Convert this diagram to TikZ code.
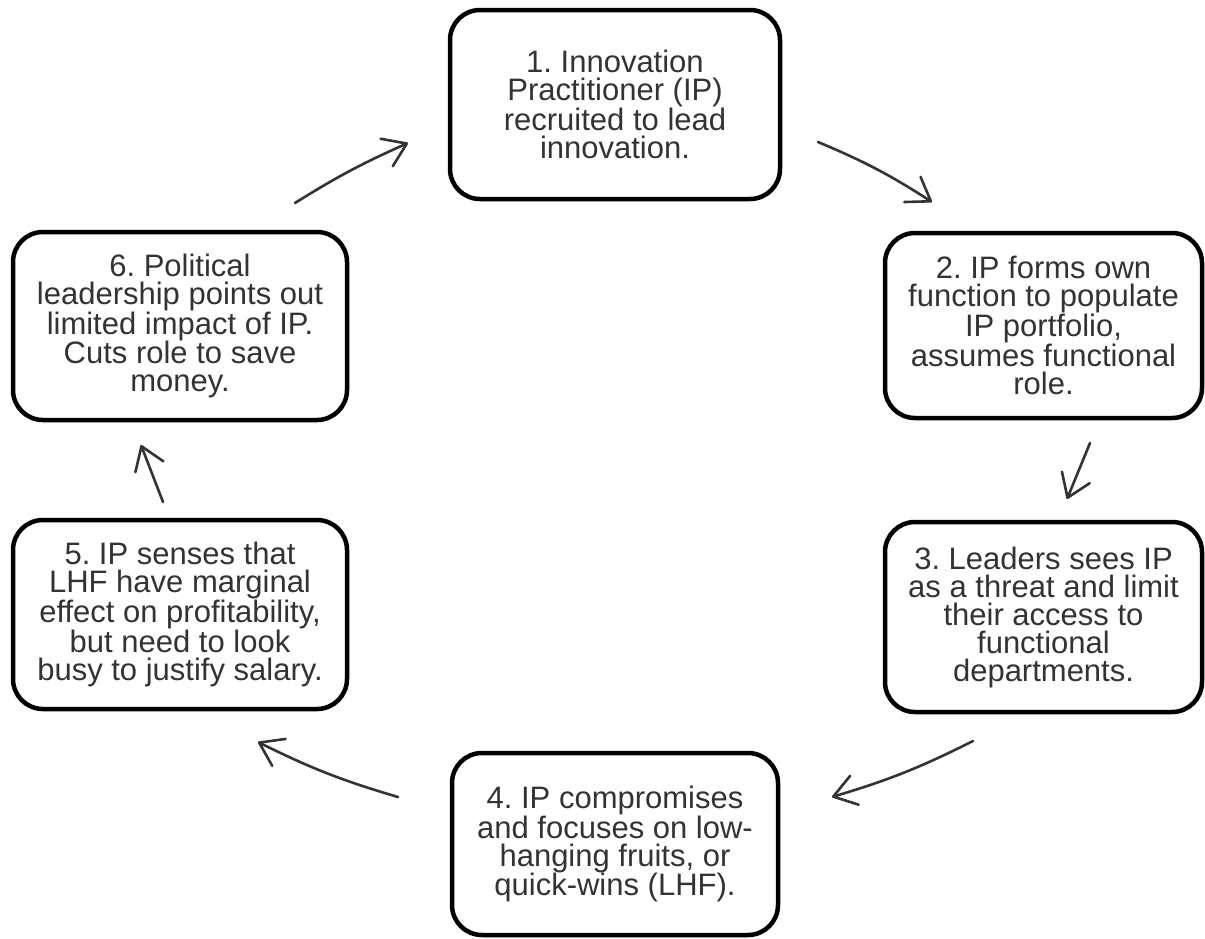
\documentclass[tikz,border=0pt]{standalone}
\usepackage{fontspec}
\setmainfont{Liberation Sans}
\usetikzlibrary{arrows.meta}

\tikzset{
  stage/.style={draw=black, line width=4.5pt, rounded corners=30pt,
    fill=white, inner sep=0pt, align=center, text=black!80,
    font=\fontsize{31}{28}\selectfont\frenchspacing},
  flow/.style={draw=black!80, line width=2.6pt, line cap=round,
    -{Straight Barb[length=22pt,width=30pt,line cap=round,line join=round]}}
}

\begin{document}
\begin{tikzpicture}[x=1pt,y=1pt]
  \useasboundingbox (0,0) rectangle (1205,-938);

  % the six stages of the cycle
  \node[stage, minimum width=330pt, minimum height=189pt] (s1) at (615,-104.5)
    {1. Innovation\\Practitioner (IP)\\recruited to lead\\innovation.};
  \node[stage, minimum width=317pt, minimum height=185pt] (s2) at (1043.5,-325.5)
    {2. IP forms own\\function to populate\\IP portfolio,\\assumes functional\\role.};
  \node[stage, minimum width=317pt, minimum height=190pt] (s3) at (1043.5,-617)
    {3. Leaders sees IP\\as a threat and limit\\their access to\\functional\\departments.};
  \node[stage, minimum width=326pt, minimum height=182pt] (s4) at (615,-844)
    {4. IP compromises\\and focuses on low-\\hanging fruits, or\\quick-wins (LHF).};
  \node[stage, minimum width=334pt, minimum height=189pt] (s5) at (180,-614.5)
    {5. IP senses that\\LHF have marginal\\effect on profitability,\\but need to look\\busy to justify salary.};
  \node[stage, minimum width=334pt, minimum height=188pt] (s6) at (180,-326)
    {6. Political\\leadership points out\\limited impact of IP.\\Cuts role to save\\money.};

  % free ends of the connecting arrows
  \coordinate (a12s) at (818,-142);  \coordinate (a12e) at (932,-202);
  \coordinate (a23s) at (1090,-443); \coordinate (a23e) at (1067,-499);
  \coordinate (a34s) at (973,-741);  \coordinate (a34e) at (832,-797);
  \coordinate (a45s) at (398,-797);  \coordinate (a45e) at (258,-742);
  \coordinate (a56s) at (163,-502);  \coordinate (a56e) at (141,-445);
  \coordinate (a61s) at (295,-203);  \coordinate (a61e) at (408,-143);

  \draw[flow] (a12s) to[bend left=5] (a12e);
  \draw[flow] (a23s) -- (a23e);
  \draw[flow] (a34s) to[bend left=5] (a34e);
  \draw[flow] (a45s) to[bend left=5] (a45e);
  \draw[flow] (a56s) -- (a56e);
  \draw[flow] (a61s) to[bend left=4] (a61e);
\end{tikzpicture}
\end{document}
